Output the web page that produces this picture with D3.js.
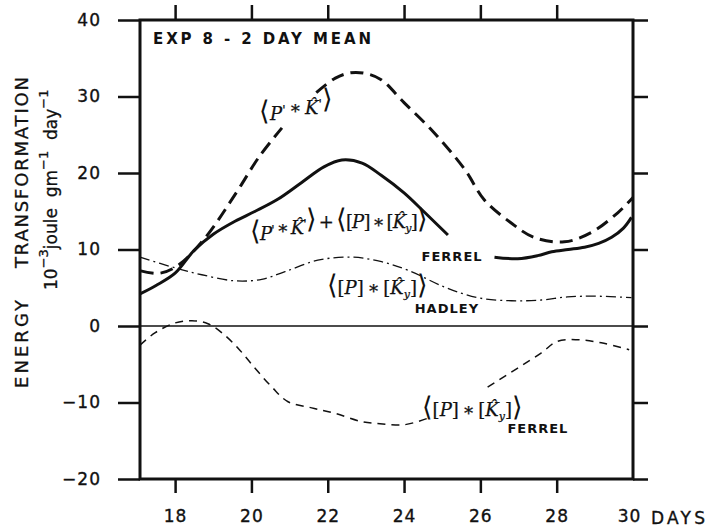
<!DOCTYPE html>
<html>
<head>
<meta charset="utf-8">
<script src="https://cdn.jsdelivr.net/npm/d3@7"></script>
<style>
  body { margin: 0; background: #fff; }
  svg { display: block; }
  .axis text { font-family: "DejaVu Sans", sans-serif; font-size: 17px; fill: #111; stroke: #111; stroke-width: 0.35; letter-spacing: 1px; }
  .axis line { stroke: #111; stroke-width: 2.5; }
  .lbl { font-family: "DejaVu Sans", sans-serif; fill: #111; white-space: pre; }
  .math { font-family: "DejaVu Serif", serif; font-size: 18px; fill: #111; stroke: #111; stroke-width: 0.25; white-space: pre; }
</style>
</head>
<body>
<script>
// values (days, 10^-3 joule gm^-1 day^-1)
const yTicks = [-20, -10, 0, 10, 20, 30, 40];
const xTicks = [18, 20, 22, 24, 26, 28, 30];

// <P'*K'> , heavy dashed (broken under its label)
const pkDays = [17.1, 17.6, 18.1, 18.8, 19.6, 20.2, 20.8, 21.2, 21.7, 22.2, 22.6, 23.0, 23.4, 24.0, 24.8, 25.6, 26.1, 26.8, 27.4, 28.2, 28.9, 29.6, 30.0];
const pkVals = [7.2, 6.9, 8.0, 11.6, 17.4, 22.1, 25.9, null, 30.5, 32.4, 33.1, 33.0, 32.2, 29.2, 25.2, 20.4, 16.5, 13.5, 11.6, 11.0, 12.2, 14.8, 16.8];

// <P'*K'> + <[P]*[Ky]> FERREL , heavy solid (broken under its label)
const sumDays = [17.08, 17.5, 18.0, 18.5, 19.0, 19.57, 20.1, 20.7, 21.3, 21.9, 22.37, 22.9, 23.4, 24.0, 24.55, 25.15, 25.7, 26.37, 26.98, 27.5, 27.87, 28.3, 28.73, 29.1, 29.44, 29.75, 29.96];
const sumVals = [4.2, 5.3, 6.9, 9.9, 12.0, 13.7, 15.0, 16.6, 18.7, 20.8, 21.7, 21.3, 19.7, 17.4, 14.8, 11.9, null, 9.0, 8.8, 9.2, 9.7, 10.0, 10.3, 10.8, 11.6, 12.8, 14.2];

// <[P]*[Ky]> HADLEY , dash-dot
const hadDays = [17.08, 18.0, 18.7, 19.57, 20.27, 20.88, 21.74, 22.63, 23.41, 24.1, 25.06, 25.93, 26.82, 27.6, 28.28, 28.99, 29.96];
const hadVals = [9.0, 7.6, 6.7, 5.9, 6.1, 7.1, 8.6, 9.0, 8.4, 7.3, 5.1, 3.7, 3.3, 3.4, 3.8, 3.9, 3.7];

// <[P]*[Ky]> FERREL , light dashed (broken under its label)
const ferDays = [17.08, 17.47, 18.0, 18.44, 18.86, 19.23, 19.65, 20.09, 20.54, 20.96, 21.58, 22.18, 22.89, 23.44, 24.02, 24.6, 25.4, 26.19, 26.98, 27.6, 28.02, 28.55, 29.17, 29.9];
const ferVals = [-2.5, -0.9, 0.4, 0.7, 0.3, -0.9, -2.9, -5.5, -8.0, -9.9, -10.7, -11.4, -12.5, -12.8, -12.9, -12.1, null, -8.0, -5.5, -3.5, -2.0, -1.8, -2.2, -3.1];

const W = 709, H = 531;
const svg = d3.select("body").append("svg").attr("width", W).attr("height", H);

const x = d3.scaleLinear().domain([17.08, 30]).range([140, 633]);
const y = d3.scaleLinear().domain([-20, 40]).range([479, 20]);

// axes
svg.append("g").attr("class", "axis").attr("transform", "translate(140,0)")
  .call(d3.axisLeft(y).tickValues(yTicks).tickSize(22).tickPadding(17).tickFormat(d3.format("d")));
svg.append("g").attr("class", "axis").attr("transform", "translate(633,0)")
  .call(d3.axisRight(y).tickValues(yTicks).tickSize(15).tickFormat(""));
const gb = svg.append("g").attr("class", "axis").attr("transform", "translate(0,479)")
  .call(d3.axisBottom(x).tickValues(xTicks).tickSize(14).tickPadding(17));
svg.append("g").attr("class", "axis").attr("transform", "translate(0,20)")
  .call(d3.axisTop(x).tickValues(xTicks.filter(d => d < 30)).tickSize(15).tickFormat(""));
svg.selectAll(".axis .domain").remove();
gb.selectAll(".tick").filter(d => d === 30).select("line").remove();
gb.selectAll(".tick").filter(d => d === 30).select("text").attr("dx", -4);

svg.append("rect")
  .attr("x", x(17.08)).attr("y", y(40))
  .attr("width", x(30) - x(17.08)).attr("height", y(-20) - y(40))
  .attr("fill", "none").attr("stroke", "#111").attr("stroke-width", 3);

// zero line
svg.append("line")
  .attr("x1", x(17.08)).attr("x2", x(30)).attr("y1", y(0)).attr("y2", y(0))
  .attr("stroke", "#111").attr("stroke-width", 1.4);

// curves
const line = d3.line()
  .defined(d => d[1] != null)
  .x(d => x(d[0])).y(d => y(d[1]))
  .curve(d3.curveCatmullRom.alpha(0.5));

function draw(days, vals, width, dash) {
  svg.append("path")
    .datum(days.map((d, i) => [d, vals[i]]))
    .attr("d", line)
    .attr("fill", "none").attr("stroke", "#111")
    .attr("stroke-width", width)
    .attr("stroke-dasharray", dash)
    .attr("stroke-linecap", "butt");
}
draw(hadDays, hadVals, 1.3, "10,4,2,4");
draw(ferDays, ferVals, 1.5, "8,6");
draw(pkDays, pkVals, 3, "13,7");
draw(sumDays, sumVals, 3, null);

// title
svg.append("text").attr("class", "lbl")
  .attr("x", 153).attr("y", 44)
  .attr("font-size", 15).attr("font-weight", "bold")
  .attr("textLength", 218).attr("lengthAdjust", "spacing")
  .text("EXP 8 - 2 DAY MEAN");

// x unit
svg.append("text").attr("class", "lbl")
  .attr("x", 651).attr("y", 524)
  .attr("font-size", 17).attr("stroke", "#111").attr("stroke-width", 0.35)
  .attr("textLength", 54).attr("lengthAdjust", "spacing")
  .text("DAYS");

// y titles
svg.append("text").attr("class", "lbl")
  .attr("transform", "translate(28,388) rotate(-90)")
  .attr("font-size", 18).attr("stroke", "#111").attr("stroke-width", 0.3)
  .attr("textLength", 88).attr("lengthAdjust", "spacing")
  .text("ENERGY");
svg.append("text").attr("class", "lbl")
  .attr("transform", "translate(28,268) rotate(-90)")
  .attr("font-size", 18).attr("stroke", "#111").attr("stroke-width", 0.3)
  .attr("textLength", 191).attr("lengthAdjust", "spacing")
  .text("TRANSFORMATION");

const unit = svg.append("text").attr("class", "lbl")
  .attr("transform", "translate(57,290) rotate(-90)")
  .attr("font-size", 17).attr("stroke", "#111").attr("stroke-width", 0.3);
unit.append("tspan").text("10");
unit.append("tspan").attr("dy", -9).attr("font-size", 13).text("−3");
unit.append("tspan").attr("dy", 9).text("joule  gm");
unit.append("tspan").attr("dy", -9).attr("font-size", 13).text("−1");
unit.append("tspan").attr("dy", 9).text("  day");
unit.append("tspan").attr("dy", -9).attr("font-size", 13).text("−1");

// curve labels
const thin = "\u2009";
function bracket(t, s) {
  t.append("tspan").attr("font-family", "DejaVu Sans").attr("font-size", 27)
    .attr("font-weight", 200).attr("stroke-width", 0).text(s);
}
function term(t, s) {
  t.append("tspan").attr("font-style", "italic").text(s);
}
function prime(t) {
  t.append("tspan").attr("font-family", "DejaVu Sans").attr("font-size", 12).attr("dy", -6).text("'");
  t.append("tspan").attr("dy", 6).text("");
}
function pk(t) {
  bracket(t, "⟨");
  term(t, "P");
  prime(t);
  t.append("tspan").text(thin + "∗" + thin);
  term(t, "K\u0302");
  prime(t);
  bracket(t, "⟩");
}
function pky(t) {
  bracket(t, "⟨");
  t.append("tspan").text("[");
  term(t, "P");
  t.append("tspan").text("]" + thin + "∗" + thin + "[");
  term(t, "K\u0302");
  t.append("tspan").attr("dy", 4).attr("font-size", 11).attr("font-style", "italic").text("y");
  t.append("tspan").attr("dy", -4).text("]");
  bracket(t, "⟩");
}
function sub(day, val, s) {
  svg.append("text").attr("class", "lbl")
    .attr("x", x(day)).attr("y", y(val))
    .attr("font-size", 13).attr("font-weight", "bold").attr("letter-spacing", 1)
    .text(s);
}

const la = svg.append("text").attr("class", "math").attr("x", x(20.2)).attr("y", y(26.9));
pk(la);

const lb = svg.append("text").attr("class", "math").attr("x", x(19.96)).attr("y", y(11.2))
  .attr("textLength", 178).attr("lengthAdjust", "spacing");
pk(lb);
lb.append("tspan").text(thin + "+" + thin);
pky(lb);
sub(24.46, 8.5, "FERREL");

const lc = svg.append("text").attr("class", "math").attr("x", x(21.97)).attr("y", y(4.2));
pky(lc);
sub(24.28, 1.7, "HADLEY");

const ld = svg.append("text").attr("class", "math").attr("x", x(24.46)).attr("y", y(-11.8));
pky(ld);
sub(26.71, -14.0, "FERREL");
</script>
</body>
</html>
